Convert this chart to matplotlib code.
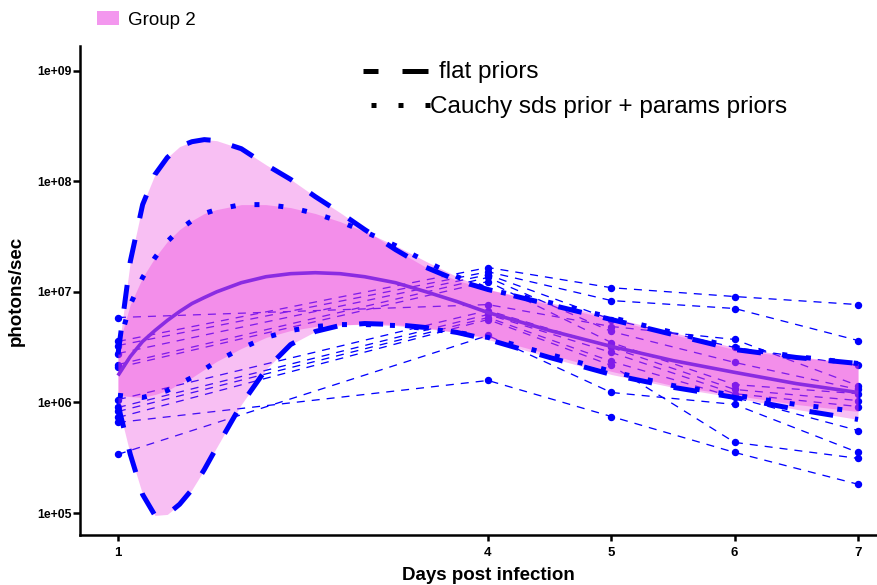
import matplotlib
matplotlib.use("Agg")
import matplotlib.pyplot as plt
import numpy as np
from matplotlib.lines import Line2D
from matplotlib.patches import Rectangle

plt.rcParams["font.family"] = ["Liberation Sans", "DejaVu Sans"]
plt.rcParams["lines.scale_dashes"] = False

W, H = 878, 585
PX = 0.72  # points per pixel at 100 dpi

# ---- observed photon counts, one entry per animal (12 animals) ----
days = [1, 4, 5, 6, 7]
day1 = [3.56e6, 3.27e6, 2.77e6, 5.86e6, 2.20e6, 2.07e6, 1.06e6, 9.00e5, 8.28e5, 7.31e5, 3.39e5, 6.59e5]
day4 = [1.66e7, 1.52e7, 1.43e7, 7.67e6, 1.35e7, 1.24e7, 6.78e6, 6.24e6, 5.86e6, 5.62e6, 4.03e6, 1.58e6]
day5 = [1.09e7, 8.34e6, 5.62e6, 4.86e6, 4.38e6, 3.48e6, 3.14e6, 2.83e6, 2.35e6, 2.16e6, 1.23e6, 7.46e5]
day6 = [9.07e6, 7.07e6, 3.14e6, 3.71e6, 2.30e6, 1.45e6, 1.31e6, 1.20e6, 1.11e6, 4.35e5, 9.59e5, 3.53e5]
day7 = [7.67e6, 3.63e6, 2.16e6, 1.42e6, 1.31e6, 1.20e6, 1.04e6, 9.18e5, 5.57e5, 3.12e5, 3.53e5, 1.82e5]

# ---- fitted growth curve and credible bands ----
fit_days = [1.0, 1.1, 1.2, 1.3, 1.4, 1.5, 1.6, 1.7, 1.8, 2.0, 2.2, 2.4, 2.6,
            2.8, 3.0, 3.25, 3.5, 3.75, 4.0, 4.5, 5.0, 5.5, 6.0, 6.5, 7.0]
fit_mean = [1.75e6, 2.60e6, 3.56e6, 4.47e6, 5.51e6, 6.64e6, 7.84e6, 8.88e6, 1.00e7,
            1.21e7, 1.37e7, 1.46e7, 1.49e7, 1.46e7, 1.37e7, 1.21e7, 1.00e7, 8.16e6,
            6.50e6, 4.47e6, 3.21e6, 2.39e6, 1.87e6, 1.48e6, 1.23e6]
flat_hi = [2.72e6, 1.88e7, 6.15e7, 1.15e8, 1.64e8, 2.06e8, 2.28e8, 2.38e8, 2.33e8,
           1.97e8, 1.41e8, 1.04e8, 7.26e7, 5.21e7, 3.66e7, 2.41e7, 1.66e7, 1.27e7,
           1.05e7, 7.67e6, 5.62e6, 4.11e6, 3.01e6, 2.55e6, 2.25e6]
flat_lo = [9.58e5, 3.39e5, 1.47e5, 9.51e4, 9.71e4, 1.20e5, 1.63e5, 2.47e5, 3.92e5,
           9.58e5, 1.99e6, 3.34e6, 4.38e6, 4.96e6, 5.17e6, 5.06e6, 4.75e6, 4.29e6,
           3.71e6, 2.55e6, 1.79e6, 1.37e6, 1.11e6, 8.65e5, 7.02e5]
cauchy_hi = [3.14e6, 7.67e6, 1.35e7, 2.04e7, 2.85e7, 3.66e7, 4.41e7, 5.11e7, 5.55e7,
             6.15e7, 6.15e7, 5.78e7, 5.11e7, 4.32e7, 3.51e7, 2.62e7, 1.88e7, 1.37e7,
             1.05e7, 8.00e6, 5.86e6, 4.29e6, 3.14e6, 2.60e6, 2.25e6]
cauchy_lo = [1.16e6, 1.13e6, 1.11e6, 1.18e6, 1.28e6, 1.48e6, 1.68e6, 1.99e6, 2.35e6,
             3.08e6, 3.87e6, 4.47e6, 4.86e6, 5.06e6, 5.06e6, 4.96e6, 4.66e6, 4.29e6,
             3.87e6, 2.72e6, 1.91e6, 1.42e6, 1.16e6, 9.59e5, 8.28e5]

tick_days = [1, 4, 5, 6, 7]
tick_vals = [1e5, 1e6, 1e7, 1e8, 1e9]
tick_text = ["1e+05", "1e+06", "1e+07", "1e+08", "1e+09"]

band_rgb = (0.92, 0.20, 0.86)
blue = "#0000FF"

fig = plt.figure(figsize=(W / 100, H / 100), dpi=100)
ax = fig.add_axes([80 / W, (H - 535) / H, (876 - 80) / W, (535 - 46) / H])

# individual animals
obs = np.array([day1, day4, day5, day6, day7])
for k in range(obs.shape[1]):
    ax.plot(days, obs[:, k], color=blue, lw=1.3 * PX, ls=(0, (8 * PX, 7 * PX)),
            marker="o", ms=6 * PX, mec=blue, mfc=blue, zorder=1)

# credible bands (semi-transparent, over the raw lines)
ax.fill_between(fit_days, flat_lo, flat_hi, color=band_rgb, alpha=0.31, lw=0, zorder=2)
ax.fill_between(fit_days, cauchy_lo, cauchy_hi, color=band_rgb, alpha=0.35, lw=0, zorder=3)

# posterior mean
ax.plot(fit_days, fit_mean, color="#8A2BE2", lw=3.6 * PX, zorder=4,
        solid_capstyle="butt")

# band outlines
dash_flat = (0, (24 * PX, 22 * PX))
dot_cauchy = (0, (5 * PX, 19 * PX))
for curve in (flat_hi, flat_lo):
    ax.plot(fit_days, curve, color=blue, lw=5 * PX, ls=dash_flat, zorder=5)
for curve in (cauchy_hi, cauchy_lo):
    ax.plot(fit_days, curve, color=blue, lw=5 * PX, ls=dot_cauchy, zorder=5)

ax.set_yscale("log")
ax.set_xlim(1 - 38 / 123.5, 7 + 18 / 123.5)
ax.set_ylim(10 ** (5 - 22 / 110.65), 10 ** (9 + 24.7 / 110.65))
ax.minorticks_off()
ax.set_yticks(tick_vals)
ax.set_yticklabels(tick_text, fontsize=8.8, fontweight="bold")
ax.set_xticks(tick_days)
ax.set_xticklabels([str(d) for d in tick_days], fontsize=9.5, fontweight="bold")

for side in ("top", "right"):
    ax.spines[side].set_visible(False)
for side in ("left", "bottom"):
    ax.spines[side].set_linewidth(1.8)
ax.tick_params(axis="y", length=5, width=1.8, pad=1)
ax.tick_params(axis="x", length=4, width=1.8, pad=5)

ax.set_ylabel("photons/sec", fontsize=13.5, fontweight="bold", labelpad=9)
fig.text(488 / W, 1 - 575 / H, "Days post infection", fontsize=13.5,
         fontweight="bold", ha="center", va="center")

# group key
fig.add_artist(Rectangle((97 / W, 1 - 25 / H), 22 / W, 14 / H,
                         transform=fig.transFigure, color="#F397EE", lw=0))
fig.text(128 / W, 1 - 25 / H, "Group 2", fontsize=13.5, va="baseline")

# prior key
fig.add_artist(Line2D([363 / W, 428 / W], [1 - 71 / H] * 2, transform=fig.transFigure,
                      color="black", lw=5 * PX, ls=(11 * PX, (26 * PX, 24 * PX))))
fig.add_artist(Line2D([371.5 / W, 430.5 / W], [1 - 105 / H] * 2, transform=fig.transFigure,
                      color="black", lw=5 * PX, ls=(0, (5 * PX, 22 * PX))))
fig.text(439 / W, 1 - 78.3 / H, "flat priors", fontsize=17.5, va="baseline")
fig.text(430 / W, 1 - 113.3 / H, "Cauchy sds prior + params priors", fontsize=17.5,
         va="baseline")

fig.savefig("out.png", dpi=100)
